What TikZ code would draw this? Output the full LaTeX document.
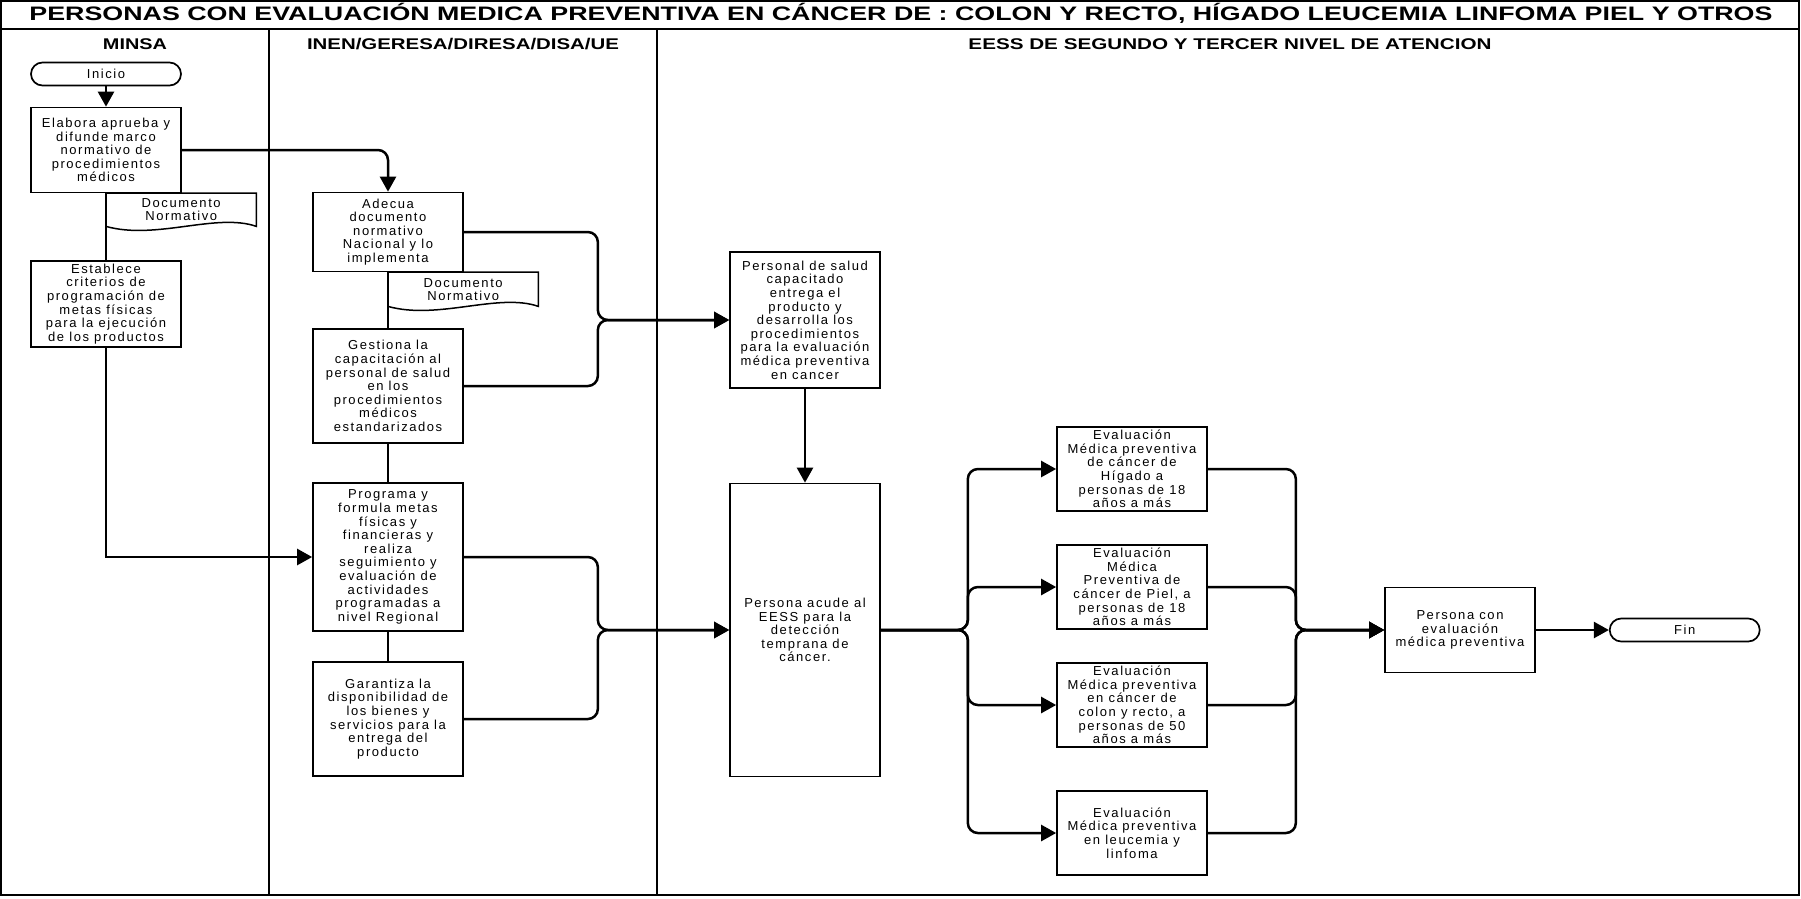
\documentclass[tikz,border=0pt]{standalone}
\usepackage{fontspec}
\usepackage{graphicx}
\setmainfont{Liberation Sans}
\newfontfamily\boxfont[LetterSpace=12]{Liberation Sans}
\usetikzlibrary{arrows.meta,positioning}
\tikzset{
 proc/.style={rectangle,draw,line width=1.7pt,minimum width=150pt,align=center,inner sep=2pt,font=\boxfont\fontsize{13}{13.6}\selectfont},
 term/.style={proc,rounded corners=11.5pt,minimum height=23pt},
 doclabel/.style={minimum width=150pt,align=center,inner sep=1pt,font=\boxfont\fontsize{13}{13.2}\selectfont},
 docline/.style={line width=1.5pt},
 lanehead/.style={anchor=base,inner sep=0pt,font=\bfseries\fontsize{15.5}{18}\selectfont},
 arrow/.style={-{Triangle[length=15pt,width=16pt]},line width=2.5pt},
 link/.style={line width=2.5pt}}

\begin{document}
\begin{tikzpicture}[x=1pt,y=-1pt]
\useasboundingbox (0,0) rectangle (1801,898);
% frame, title and lanes
\draw[line width=1.5pt] (1,1) rectangle (1799,895);
\draw[line width=2pt] (1,29) -- (1799,29);
\draw[line width=2.4pt] (269,29) -- (269,895);
\draw[line width=2.4pt] (657,29) -- (657,895);
\node[anchor=base,inner sep=0pt,font=\bfseries\fontsize{19.5}{22}\selectfont] (title) at (901,20)
 {\resizebox{1743pt}{\height}{PERSONAS CON EVALUACIÓN MEDICA PREVENTIVA EN CÁNCER DE : COLON Y RECTO, HÍGADO LEUCEMIA LINFOMA PIEL Y OTROS}};
\node[lanehead] (hminsa) at (135,49) {\resizebox{64pt}{\height}{MINSA}};
\node[lanehead] (hinen) at (463,49) {\resizebox{312pt}{\height}{INEN/GERESA/DIRESA/DISA/UE}};
\node[lanehead] (heess) at (1230,49) {\resizebox{523pt}{\height}{EESS DE SEGUNDO Y TERCER NIVEL DE ATENCION}};

% MINSA
\node[term] (inicio) at (106,74) {Inicio};
\node[proc,minimum height=85pt] (elabora) at (106,150) {Elabora aprueba y\\difunde marco\\normativo de\\procedimientos\\médicos};
\node[doclabel,minimum height=33pt,anchor=north west] (doc1) at (106,193) {Documento\\Normativo};
\node[proc,minimum height=86pt] (establece) at (106,304) {Establece\\criterios de\\programación de\\metas físicas\\para la ejecución\\de los productos};

% INEN/GERESA/DIRESA/DISA/UE
\node[proc,minimum height=79pt] (adecua) at (388,232) {Adecua\\documento\\normativo\\Nacional y lo\\implementa};
\node[doclabel,minimum height=34pt,anchor=north west] (doc2) at (388,272) {Documento\\Normativo};
\node[proc,minimum height=114pt] (gestiona) at (388,386) {Gestiona la\\capacitación al\\personal de salud\\en los\\procedimientos\\médicos\\estandarizados};
\node[proc,minimum height=148pt] (programa) at (388,557) {Programa y\\formula metas\\físicas y\\financieras y\\realiza\\seguimiento y\\evaluación de\\actividades\\programadas a\\nivel Regional};
\node[proc,minimum height=114pt] (garantiza) at (388,719) {Garantiza la\\disponibilidad de\\los bienes y\\servicios para la\\entrega del\\producto};

% EESS
\node[proc,minimum height=136pt] (personal) at (805,320) {Personal de salud\\capacitado\\entrega el\\producto y\\desarrolla los\\procedimientos\\para la evaluación\\médica preventiva\\en cancer};
\node[proc,minimum height=293pt] (acude) at (805,630) {Persona acude al\\EESS para la\\detección\\temprana de\\cáncer.};
\node[proc,minimum height=84pt] (higado) at (1132,469) {Evaluación\\Médica preventiva\\de cáncer de\\Hígado a\\personas de 18\\años a más};
\node[proc,minimum height=84pt] (piel) at (1132,587) {Evaluación\\Médica\\Preventiva de\\cáncer de Piel, a\\personas de 18\\años a más};
\node[proc,minimum height=84pt] (colon) at (1132,705) {Evaluación\\Médica preventiva\\en cáncer de\\colon y recto, a\\personas de 50\\años a más};
\node[proc,minimum height=84pt] (leucemia) at (1132,833) {Evaluación\\Médica preventiva\\en leucemia y\\linfoma};
\node[proc,minimum height=85pt] (personacon) at (1460,630) {Persona con\\evaluación\\médica preventiva};
\node[term,right=73pt of personacon] (fin) {Fin};

% documents
\draw[docline] (doc1.south west) -- (doc1.north west) -- (doc1.north east) -- (doc1.south east) .. controls +(-40,-14) and +(50,14) .. (doc1.south west);
\draw[docline] (doc2.south west) -- (doc2.north west) -- (doc2.north east) -- (doc2.south east) .. controls +(-40,-14) and +(50,14) .. (doc2.south west);

% connectors
\draw[arrow] (inicio) -- (elabora);
\draw[arrow,rounded corners=10pt] (elabora.east) -| (adecua.north);
\draw[link] (elabora) -- (establece);
\draw[arrow] (establece.south) |- (programa.west);
\draw[link] (adecua) -- (gestiona);
\draw[link] (gestiona) -- (programa);
\draw[link] (programa) -- (garantiza);
\draw[arrow,rounded corners=10pt] (adecua.east) -- ++(134,0) |- (personal.west);
\draw[arrow,rounded corners=10pt] (gestiona.east) -- ++(134,0) |- (personal.west);
\draw[arrow,rounded corners=10pt] (programa.east) -- ++(134,0) |- (acude.west);
\draw[arrow,rounded corners=10pt] (garantiza.east) -- ++(134,0) |- (acude.west);
\draw[arrow] (personal) -- (acude);
\foreach \ev in {higado,piel,colon,leucemia}
 \draw[arrow,rounded corners=10pt] (acude.east) -- ++(87,0) |- (\ev.west);
\foreach \ev in {higado,piel,colon,leucemia}
 \draw[arrow,rounded corners=10pt] (\ev.east) -- ++(88,0) |- (personacon.west);
\draw[arrow] (personacon) -- (fin);
\end{tikzpicture}
\end{document}
